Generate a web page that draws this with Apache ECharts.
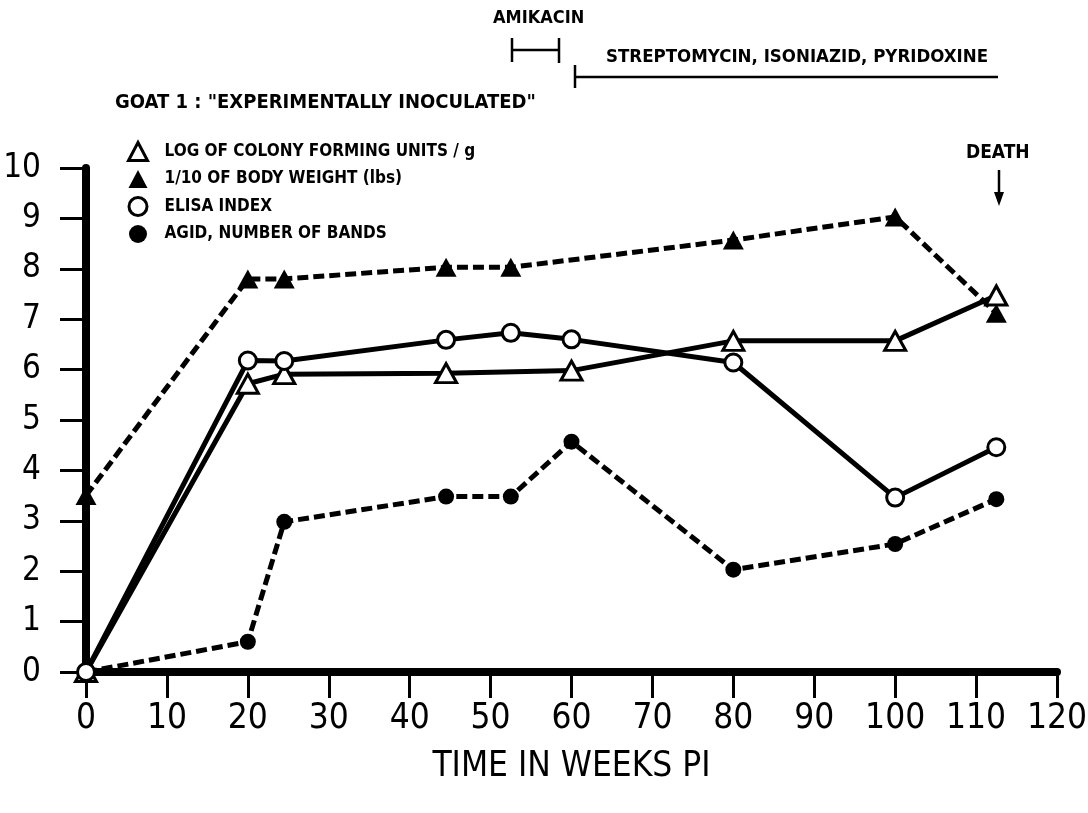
<!DOCTYPE html>
<html>
<head>
<meta charset="utf-8">
<script src="https://cdn.jsdelivr.net/npm/echarts@6/dist/echarts.min.js"></script>
<style>html,body{margin:0;padding:0;background:#fff}#c{width:1088px;height:813px}</style>
</head>
<body>
<div id="c"></div>
<script>
// ---- data ----
const cfuWeeks    = [0, 20, 24.5, 44.5, 60, 80, 100, 112.5];
const cfuValues   = [0, 5.72, 5.91, 5.93, 5.98, 6.57, 6.57, 7.47];
const bwWeeks     = [0, 20, 24.5, 44.5, 52.5, 80, 100, 112.5];
const bwValues    = [3.5, 7.8, 7.8, 8.03, 8.03, 8.57, 9.03, 7.12];
const elisaWeeks  = [0, 20, 24.5, 44.5, 52.5, 60, 80, 100, 112.5];
const elisaValues = [0, 6.18, 6.17, 6.59, 6.73, 6.6, 6.14, 3.46, 4.46];
const agidWeeks   = [0, 20, 24.5, 44.5, 52.5, 60, 80, 100, 112.5];
const agidValues  = [0, 0.6, 2.98, 3.48, 3.48, 4.57, 2.03, 2.54, 3.43];
const seriesNames = ['LOG OF COLONY FORMING UNITS / g', '1/10 OF BODY WEIGHT (lbs)', 'ELISA INDEX', 'AGID, NUMBER OF BANDS'];
const xTicks = [0, 120, 10];
const yTicks = [0, 10, 1];

const FONT = "'Liberation Sans Narrow','DejaVu Sans Condensed','Roboto Condensed',sans-serif";
const pair = (xs, ys) => xs.map((x, i) => [x, ys[i]]);

const chart = echarts.init(document.getElementById('c'));
const openStyle = { color: '#fff', borderColor: '#000', borderWidth: 3 };
const fillStyle = { color: '#000', borderColor: '#000', borderWidth: 0 };

chart.setOption({
  backgroundColor: '#fff',
  animation: false,
  grid: { left: 86, right: 31, top: 168, bottom: 141, containLabel: false, outerBoundsMode: 'none' },
  xAxis: {
    type: 'value', min: xTicks[0], max: xTicks[1], interval: xTicks[2],
    name: 'TIME IN WEEKS PI', nameLocation: 'middle', nameGap: 77,
    nameTextStyle: { fontFamily: FONT, fontSize: 35, color: '#000' },
    axisLine: { lineStyle: { color: '#000', width: 8 } },
    axisTick: { length: 26, lineStyle: { color: '#000', width: 3 } },
    axisLabel: { margin: 29, fontFamily: FONT, fontSize: 35, color: '#000' },
    splitLine: { show: false }
  },
  yAxis: {
    type: 'value', min: yTicks[0], max: yTicks[1], interval: yTicks[2],
    axisLine: { lineStyle: { color: '#000', width: 8 } },
    axisTick: { length: 26, lineStyle: { color: '#000', width: 3 } },
    axisLabel: { margin: 45, fontFamily: FONT, fontSize: 33, color: '#000' },
    splitLine: { show: false }
  },
  legend: {
    orient: 'vertical', left: 122, top: 136, itemGap: 8,
    itemWidth: 19, itemHeight: 18,
    textStyle: { fontFamily: FONT, fontSize: 17, fontWeight: 'bold', color: '#000', padding: [0, 0, 0, 12] },
    data: [
      { name: seriesNames[0], icon: 'triangle', itemStyle: openStyle },
      { name: seriesNames[1], icon: 'triangle', itemStyle: fillStyle },
      { name: seriesNames[2], icon: 'circle', itemStyle: openStyle },
      { name: seriesNames[3], icon: 'circle', itemStyle: fillStyle }
    ]
  },
  series: [
    {
      name: seriesNames[1], type: 'line', data: pair(bwWeeks, bwValues), clip: false,
      symbol: 'triangle', symbolSize: [21, 19],
      lineStyle: { color: '#000', width: 5, type: [11, 5] },
      itemStyle: fillStyle, z: 3
    },
    {
      name: seriesNames[3], type: 'line', data: pair(agidWeeks, agidValues), clip: false,
      symbol: 'circle', symbolSize: 16,
      lineStyle: { color: '#000', width: 5, type: [11, 5] },
      itemStyle: fillStyle, z: 3
    },
    {
      name: seriesNames[0], type: 'line', data: pair(cfuWeeks, cfuValues), clip: false,
      symbol: 'triangle', symbolSize: [21, 19],
      lineStyle: { color: '#000', width: 5 },
      itemStyle: openStyle, z: 4
    },
    {
      name: seriesNames[2], type: 'line', data: pair(elisaWeeks, elisaValues), clip: false,
      symbol: 'circle', symbolSize: 17,
      lineStyle: { color: '#000', width: 5 },
      itemStyle: openStyle, z: 5
    }
  ],
  graphic: [
    { type: 'text', left: 493, top: 9, style: { text: 'AMIKACIN', font: 'bold 18px ' + FONT, fill: '#000' } },
    { type: 'line', shape: { x1: 512, y1: 50, x2: 559, y2: 50 }, style: { stroke: '#000', lineWidth: 2.5 } },
    { type: 'line', shape: { x1: 512, y1: 38, x2: 512, y2: 62 }, style: { stroke: '#000', lineWidth: 2.5 } },
    { type: 'line', shape: { x1: 559, y1: 38, x2: 559, y2: 63 }, style: { stroke: '#000', lineWidth: 2.5 } },
    { type: 'text', left: 606, top: 48, style: { text: 'STREPTOMYCIN, ISONIAZID, PYRIDOXINE', font: 'bold 18.5px ' + FONT, fill: '#000' } },
    { type: 'line', shape: { x1: 575, y1: 77, x2: 998, y2: 77 }, style: { stroke: '#000', lineWidth: 2.5 } },
    { type: 'line', shape: { x1: 575, y1: 65, x2: 575, y2: 88 }, style: { stroke: '#000', lineWidth: 2.5 } },
    { type: 'text', left: 115, top: 93, style: { text: 'GOAT 1 : "EXPERIMENTALLY INOCULATED"', font: 'bold 20px ' + FONT, fill: '#000' } },
    { type: 'text', left: 966, top: 144, style: { text: 'DEATH', font: 'bold 19px ' + FONT, fill: '#000' } },
    { type: 'line', shape: { x1: 999, y1: 170, x2: 999, y2: 196 }, style: { stroke: '#000', lineWidth: 2.5 } },
    { type: 'polygon', shape: { points: [[994, 192], [1004, 192], [999, 206]] }, style: { fill: '#000' } }
  ]
});
</script>
</body>
</html>
